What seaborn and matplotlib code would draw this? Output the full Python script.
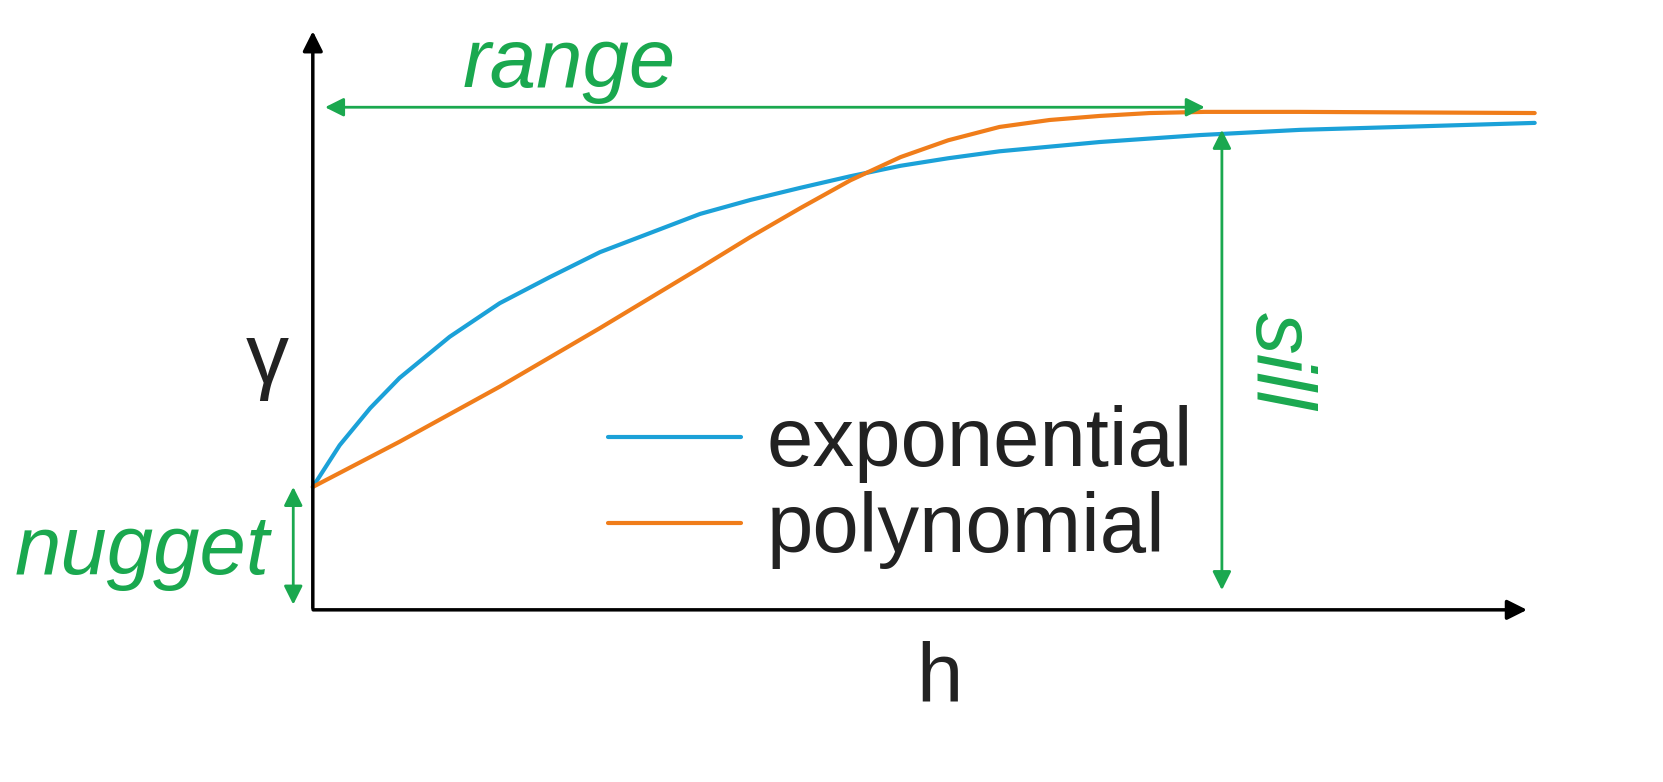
import matplotlib
matplotlib.use("Agg")
import matplotlib.pyplot as plt
import seaborn as sns
import pandas as pd

sns.set_theme(style="white")
plt.rcParams['font.family'] = ['Liberation Sans', 'DejaVu Sans']

exp_h = [0, 0.022, 0.047, 0.071, 0.112, 0.153, 0.194, 0.235, 0.276, 0.317, 0.358, 0.399,
         0.440, 0.481, 0.520, 0.562, 0.644, 0.726, 0.808, 0.889, 1.0]
exp_g = [0.212, 0.284, 0.348, 0.400, 0.471, 0.529, 0.574, 0.617, 0.650, 0.683, 0.707, 0.728,
         0.748, 0.766, 0.779, 0.791, 0.807, 0.819, 0.828, 0.833, 0.840]
poly_h = [0, 0.071, 0.153, 0.235, 0.317, 0.358, 0.399, 0.440, 0.481, 0.520, 0.562, 0.603,
          0.644, 0.685, 0.730, 0.808, 1.0]
poly_g = [0.212, 0.290, 0.385, 0.486, 0.590, 0.643, 0.693, 0.741, 0.781, 0.810, 0.833, 0.845,
          0.852, 0.857, 0.859, 0.859, 0.857]
nugget = 0.212
sill_top = 0.828
range_h = 0.73

df = pd.concat([
    pd.DataFrame({"h": exp_h, "g": exp_g, "model": "exponential"}),
    pd.DataFrame({"h": poly_h, "g": poly_g, "model": "polynomial"}),
])

green = "#1aa84f"
fig = plt.figure(figsize=(16.63, 7.82), dpi=100)
ax = fig.add_axes([0, 0, 1, 1])
sns.lineplot(data=df, x="h", y="g", hue="model", palette=["#1ba1d8", "#f07d1a"],
             linewidth=3, ax=ax, legend=True)
ax.set_xlim(-0.256, 1.105)
ax.set_ylim(-0.297, 1.052)
ax.axis("off")

leg = ax.legend(loc="center left", bbox_to_anchor=(608 / 1663, 0.377), frameon=False,
                fontsize=60, handlelength=1.6, handletextpad=0.3, labelspacing=0.1,
                borderpad=0, borderaxespad=0)
for l in leg.get_lines():
    l.set_linewidth(3)
for t in leg.get_texts():
    t.set_color("#222222")

ap = dict(arrowstyle="-|>", color="black", lw=2.5, mutation_scale=30)
ax.annotate("", xy=(0.996, 0), xytext=(-0.002, 0), arrowprops=ap)
ax.annotate("", xy=(0, 1.003), xytext=(0, -0.002), arrowprops=ap)

gp = dict(arrowstyle="<|-|>", color=green, lw=2, mutation_scale=28, shrinkA=0, shrinkB=0)
ax.annotate("", xy=(range_h, 0.867), xytext=(0.01, 0.867), arrowprops=gp)
ax.annotate("", xy=(0.744, sill_top), xytext=(0.744, 0.034), arrowprops=gp)
ax.annotate("", xy=(-0.016, nugget), xytext=(-0.016, 0.009), arrowprops=gp)

ax.text(0.21, 0.94, "range", color=green, style="italic", fontsize=60, ha="center", va="center")
ax.text(0.79, 0.43, "sill", color=green, style="italic", fontsize=60, ha="center", va="center", rotation=-90)
ax.text(-0.14, 0.10, "nugget", color=green, style="italic", fontsize=60, ha="center", va="center")
ax.text(-0.037, 0.43, "γ", color="#222222", fontsize=62, ha="center", va="center")
ax.text(0.513, -0.12, "h", color="#222222", fontsize=60, ha="center", va="center")

fig.savefig("out.png", dpi=100)
